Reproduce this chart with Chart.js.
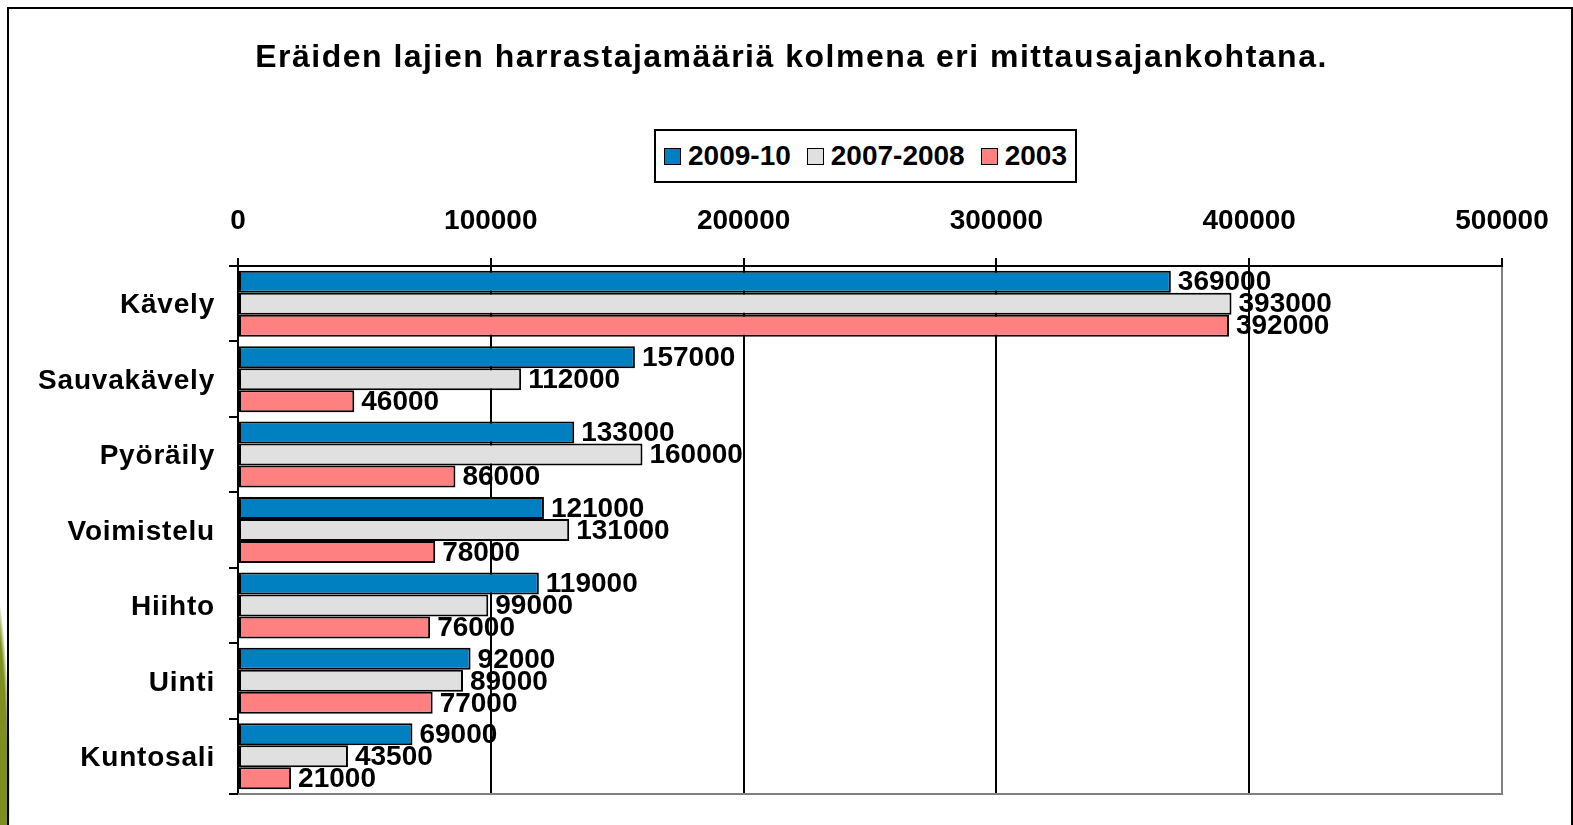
<!DOCTYPE html>
<html>
<head>
<meta charset="utf-8">
<script src="https://cdn.jsdelivr.net/npm/chart.js@4"></script>
<style>
html,body{margin:0;padding:0;background:#fff;overflow:hidden;}
#wrap{position:relative;width:1573px;height:825px;overflow:hidden;background:#fff;}
#deco{position:absolute;left:-40px;top:560px;width:50px;height:440px;border-radius:50%;
  background:radial-gradient(ellipse at center,#7d8c1c 0%,#7f8e20 62%,rgba(127,142,32,0) 72%);}
#frame{position:absolute;left:7px;top:7px;width:1566px;height:840px;border:2px solid #000;box-sizing:border-box;background:transparent;}
canvas{position:absolute;left:0;top:0;}
#title{position:absolute;left:10px;width:1563px;top:38px;line-height:38px;text-align:center;
  font:bold 32px "Liberation Sans",Arial,sans-serif;letter-spacing:1.5px;color:#000;}
#legend{position:absolute;left:654px;top:129px;width:423px;height:54px;border:2px solid #000;box-sizing:border-box;
  display:flex;align-items:center;justify-content:center;font:bold 28px "Liberation Sans",Arial,sans-serif;color:#000;background:#fff;}
#legend .item{display:flex;align-items:center;margin:0 8px;}
#legend .sw{width:15px;height:15px;border:1px solid #000;margin-right:7px;}
</style>
</head>
<body>
<div id="wrap">
  <div id="deco"></div>
  <canvas id="c" width="1573" height="825"></canvas>
  <div id="frame"></div>
  <div id="title"></div>
  <div id="legend"></div>
</div>
<script>
const titleText = 'Eräiden lajien harrastajamääriä kolmena eri mittausajankohtana.';
const categories = ['Kävely','Sauvakävely','Pyöräily','Voimistelu','Hiihto','Uinti','Kuntosali'];
const seriesNames = ['2009-10','2007-2008','2003'];
const values2009 = [369000,157000,133000,121000,119000,92000,69000];
const values2007 = [393000,112000,160000,131000,99000,89000,43500];
const values2003 = [392000,46000,86000,78000,76000,77000,21000];
const xTicks = [0,100000,200000,300000,400000,500000];
const seriesColors = ['#0080C0','#E0E0E0','#FF8080'];

document.getElementById('title').textContent = titleText;
const leg = document.getElementById('legend');
seriesNames.forEach((n,i)=>{
  const it = document.createElement('div'); it.className='item';
  const sw = document.createElement('div'); sw.className='sw'; sw.style.background=seriesColors[i];
  const tx = document.createElement('span'); tx.textContent = n;
  it.appendChild(sw); it.appendChild(tx); leg.appendChild(it);
});

const FONT = '"Liberation Sans", Arial, sans-serif';

const labelPlugin = {
  id:'valueLabels',
  afterDatasetsDraw(chart){
    const ctx = chart.ctx;
    ctx.save();
    ctx.font = 'bold 28px ' + FONT;
    ctx.fillStyle = '#000';
    ctx.textAlign = 'left';
    ctx.textBaseline = 'middle';
    chart.data.datasets.forEach((ds,di)=>{
      const meta = chart.getDatasetMeta(di);
      meta.data.forEach((el,i)=>{
        ctx.fillText(String(ds.data[i]), el.x + 7, el.y + 1);
      });
    });
    ctx.restore();
  }
};
const frameLines = {
  id:'frameLines',
  beforeDatasetsDraw(chart){
    const a = chart.chartArea, ctx = chart.ctx;
    ctx.save();
    ctx.strokeStyle = '#808080';
    ctx.lineWidth = 2;
    ctx.beginPath();
    ctx.moveTo(a.left, a.bottom);
    ctx.lineTo(a.right + 1, a.bottom);
    ctx.stroke();
    ctx.restore();
  }
};

new Chart(document.getElementById('c'), {
  type:'bar',
  data:{
    labels: categories,
    datasets:[
      {label:seriesNames[0], data:values2009, backgroundColor:seriesColors[0]},
      {label:seriesNames[1], data:values2007, backgroundColor:seriesColors[1]},
      {label:seriesNames[2], data:values2003, backgroundColor:seriesColors[2]}
    ].map(d=>Object.assign(d,{borderColor:'#000',borderWidth:2,borderSkipped:false,categoryPercentage:0.875,barPercentage:1}))
  },
  options:{
    indexAxis:'y',
    responsive:false,
    animation:false,
    layout:{padding:{left:10,right:71,top:86,bottom:31}},
    plugins:{legend:{display:false},title:{display:false},tooltip:{enabled:false}},
    scales:{
      x:{
        position:'top',
        min:0,max:500000,
        afterBuildTicks(s){ s.ticks = xTicks.map(v=>({value:v})); },
        afterFit(s){ s.height = 180; },
        ticks:{font:{family:FONT,size:28,weight:'bold'},color:'#000',padding:20,maxRotation:0,
          callback:(v)=>String(v)},
        grid:{color:(c)=> (c.tick && c.tick.value===500000) ? '#808080' : '#000',
          tickColor:'#000',lineWidth:2,tickLength:8,drawOnChartArea:true},
        border:{display:true,color:'#000',width:2}
      },
      y:{
        afterFit(s){ s.width = 228; },
        afterUpdate(s){
          if (!s._lsPatched) {
            const orig = s.drawLabels;
            s.drawLabels = function(area){
              const ctx = this.ctx;
              ctx.save();
              ctx.letterSpacing = '0.8px';
              orig.call(this, area);
              ctx.restore();
            };
            s._lsPatched = true;
          }
        },
        ticks:{font:{family:FONT,size:28,weight:'bold'},color:'#000',padding:14,labelOffset:2},
        grid:{drawOnChartArea:false,drawTicks:true,tickLength:9,color:'#000',lineWidth:2,offset:true},
        border:{display:true,color:'#000',width:2}
      }
    }
  },
  plugins:[labelPlugin,frameLines]
});
</script>
</body>
</html>
